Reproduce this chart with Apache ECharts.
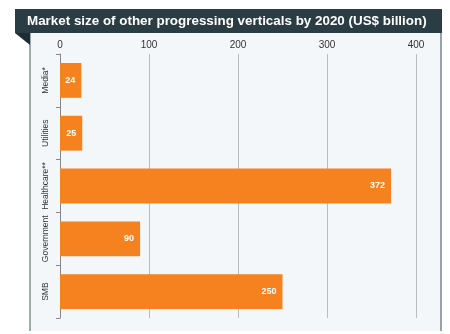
<!DOCTYPE html>
<html><head><meta charset="utf-8">
<script src="https://cdn.jsdelivr.net/npm/echarts@6/dist/echarts.min.js"></script>
<style>html,body{margin:0;padding:0;background:#fff}#c{width:450px;height:334px}</style>
</head><body><div id="c"></div>
<script>
var categories = ["Media*", "Utilities", "Healthcare**", "Government", "SMB"];
var values = [24, 25, 372, 90, 250];
var ticks = [0, 100, 200, 300, 400];

var chart = echarts.init(document.getElementById('c'), null, {renderer: 'canvas'});
chart.setOption({
  animation: false,
  backgroundColor: '#ffffff',
  graphic: [
    {type: 'rect', shape: {x: 30, y: 33, width: 411, height: 298}, style: {fill: '#f3f7fa'}, z: -10},
    {type: 'line', shape: {x1: 30, y1: 33, x2: 30, y2: 331}, style: {stroke: '#7f9097', lineWidth: 1.5}, z: -9},
    {type: 'line', shape: {x1: 441, y1: 33, x2: 441, y2: 331}, style: {stroke: '#3a4a52', lineWidth: 1}, z: -9},
    {type: 'polygon', shape: {points: [[15, 33], [30, 33], [30, 45]]}, style: {fill: '#1e2d33'}, z: -9},
    {type: 'rect', shape: {x: 15, y: 9, width: 427, height: 24}, style: {fill: '#2a3d45'}, z: -9},
    {type: 'text', left: 27, top: 15, style: {text: 'Market size of other progressing verticals by 2020 (US$ billion)', fill: '#ffffff', font: 'bold 13.4px "Liberation Sans", Arial, sans-serif'}, z: 5}
  ],
  grid: {left: 60, right: 34, top: 54, bottom: 16, containLabel: false},
  xAxis: {
    type: 'value', position: 'top', min: 0, max: 400, interval: 100,
    axisLine: {show: false}, axisTick: {show: false},
    axisLabel: {color: '#333', fontSize: 10, margin: 4, fontFamily: 'Liberation Sans, Arial, sans-serif',
      formatter: function (v) { return ticks.indexOf(v) >= 0 ? String(v) : ''; }},
    splitLine: {show: true, lineStyle: {color: '#b8bcc0', width: 1}}
  },
  yAxis: {
    type: 'category', data: categories, inverse: true,
    axisLine: {show: true, lineStyle: {color: '#888', width: 1}},
    axisTick: {show: true, length: 4, inside: false, lineStyle: {color: '#888'}},
    axisLabel: {interval: 0, rotate: 90, color: '#333', fontSize: 8.5, margin: 10, fontFamily: '"Liberation Sans Narrow", "Liberation Sans", Arial, sans-serif'}
  },
  series: [{
    type: 'bar', data: values, barWidth: '66%',
    itemStyle: {color: '#f5821f'},
    label: {show: true, position: 'insideRight', color: '#ffffff', fontSize: 9, fontWeight: 'bold', distance: 6, fontFamily: 'Liberation Sans, Arial, sans-serif'}
  }]
});
</script></body></html>
